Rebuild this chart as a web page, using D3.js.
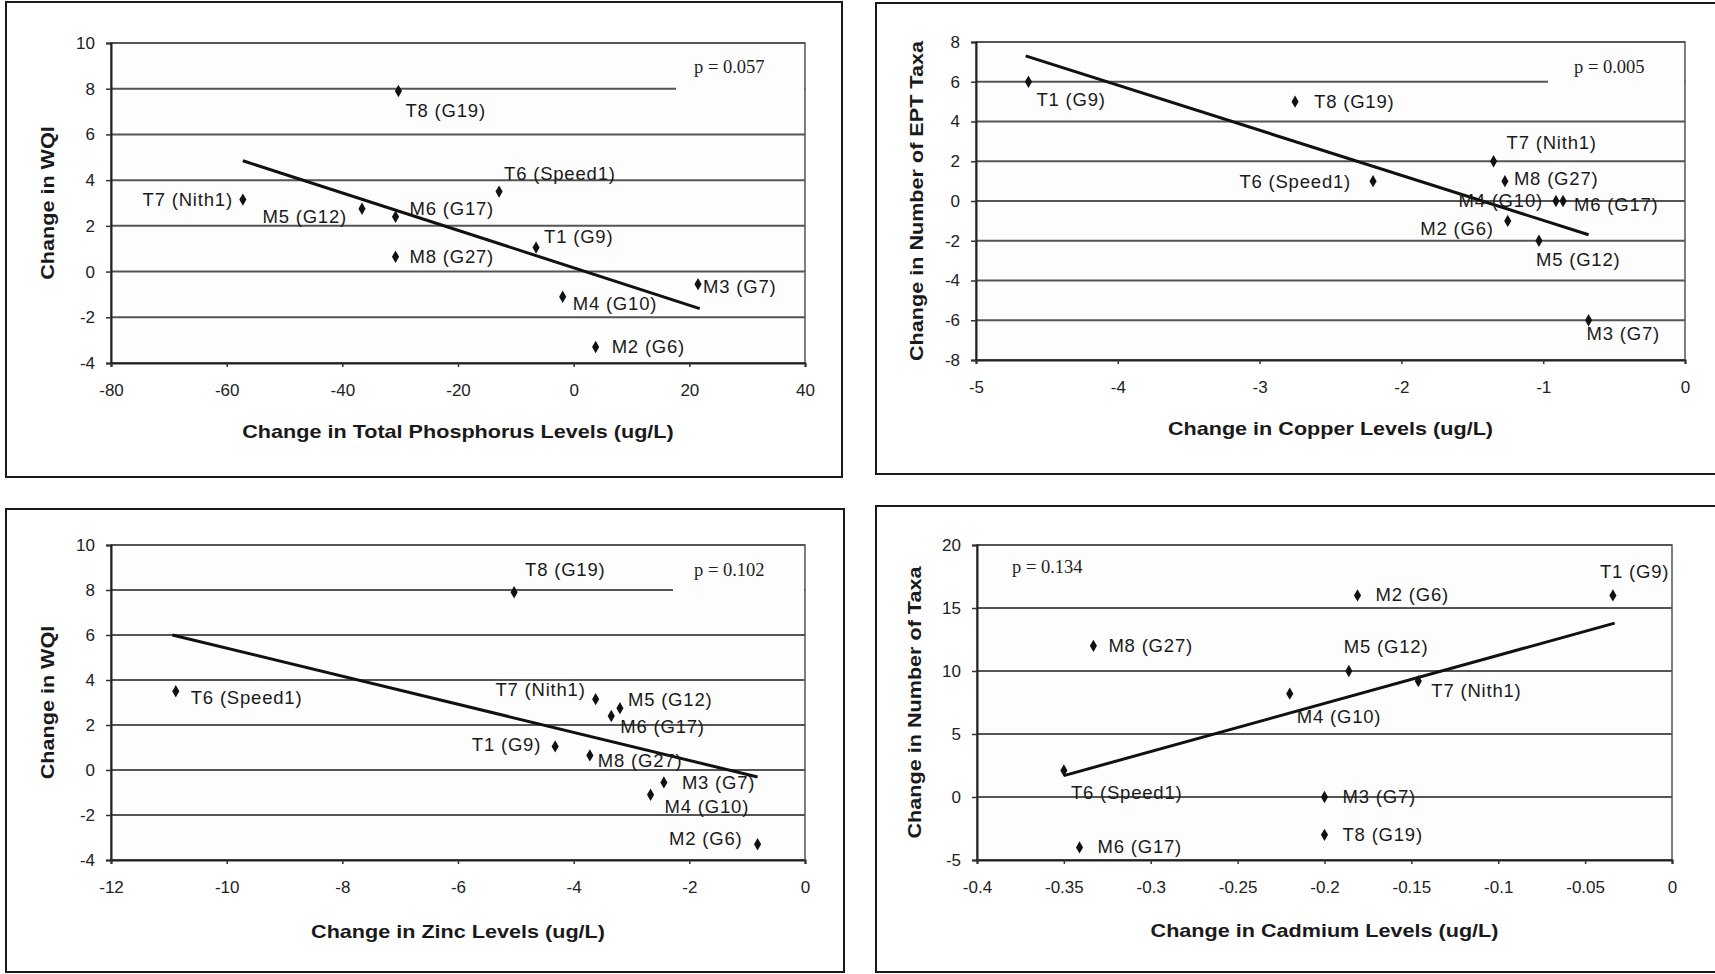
<!DOCTYPE html>
<html><head><meta charset="utf-8">
<script src="https://cdn.jsdelivr.net/npm/d3@7"></script>
<style>body{margin:0;background:#fff}</style>
</head><body>
<svg id="c" width="1715" height="974"></svg>
<script>
// ---------------- DATA ----------------
const sites = ["T8 (G19)","T7 (Nith1)","M5 (G12)","M6 (G17)","T6 (Speed1)","T1 (G9)","M8 (G27)","M4 (G10)","M3 (G7)","M2 (G6)"];
const wqiChange        = [7.9, 3.15, 2.75, 2.4, 3.5, 1.05, 0.65, -1.1, -0.55, -3.3];
const phosphorusChange = [-30.3, -57.2, -36.6, -30.8, -12.9, -6.5, -30.8, -1.9, 21.5, 3.8];
const zincChange       = [-5.03, -3.62, -3.2, -3.35, -10.88, -4.32, -3.72, -2.67, -2.44, -0.82];
const copperChange     = [-2.75, -1.35, -1.03, -0.86, -2.2, -4.63, -1.27, -0.91, -0.68, -1.25];
const eptChange        = [5, 2, -2, 0, 1, 6, 1, 0, -6, -1];
const cadmiumChange    = [-0.2, -0.146, -0.186, -0.341, -0.35, -0.034, -0.333, -0.22, -0.2, -0.181];
const taxaChange       = [-3, 9.2, 10, -4, 2.1, 16, 12, 8.2, 0, 16];

const trendTP = [[-57.2, 4.85], [21.8, -1.62]];
const trendCu = [[-4.65, 7.3], [-0.68, -1.7]];
const trendZn = [[-10.94, 6.0], [-0.82, -0.31]];
const trendCd = [[-0.35, 1.7], [-0.033, 13.8]];

const ticksTP   = [-80, -60, -40, -20, 0, 20, 40];
const ticksWQI  = [-4, -2, 0, 2, 4, 6, 8, 10];
const ticksCu   = [-5, -4, -3, -2, -1, 0];
const ticksEPT  = [-8, -6, -4, -2, 0, 2, 4, 6, 8];
const ticksZn   = [-12, -10, -8, -6, -4, -2, 0];
const ticksCd   = [-0.4, -0.35, -0.3, -0.25, -0.2, -0.15, -0.1, -0.05, 0];
const ticksTaxa = [-5, 0, 5, 10, 15, 20];

const pTP = "p = 0.057", pCu = "p = 0.005", pZn = "p = 0.102", pCd = "p = 0.134";

// ---------------- LAYOUT ----------------
const labelPosTP = {"T8 (G19)":["start",7,26],"T7 (Nith1)":["end",-10,6],"M5 (G12)":["end",-15,14],"M6 (G17)":["start",14,-2],
  "T6 (Speed1)":["start",5,-12],"T1 (G9)":["start",8,-5],"M8 (G27)":["start",14,6],"M4 (G10)":["start",10,13],"M3 (G7)":["start",5,9],"M2 (G6)":["start",16,6]};
const labelPosCu = {"T1 (G9)":["start",8,24],"T8 (G19)":["start",19,6],"T7 (Nith1)":["start",13,-12],"M8 (G27)":["start",9,4],
  "T6 (Speed1)":["end",-22,7],"M4 (G10)":["end",-13,6],"M6 (G17)":["start",11,10],"M2 (G6)":["end",-14,14],"M5 (G12)":["start",-3,25],"M3 (G7)":["start",-2,20]};
const labelPosZn = {"T8 (G19)":["start",11,-16],"T6 (Speed1)":["start",15,13],"T7 (Nith1)":["end",-10,-3],"M5 (G12)":["start",8,-2],
  "M6 (G17)":["start",9,17],"T1 (G9)":["end",-14,5],"M8 (G27)":["start",8,12],"M3 (G7)":["start",18,7],"M4 (G10)":["start",14,18],"M2 (G6)":["end",-15,1]};
const labelPosCd = {"T1 (G9)":["start",-13,-17],"M2 (G6)":["start",18,6],"M8 (G27)":["start",15,6],"M5 (G12)":["start",-5,-18],
  "T7 (Nith1)":["start",13,16],"M4 (G10)":["start",7,29],"T6 (Speed1)":["start",7,28],"M3 (G7)":["start",18,6],"T8 (G19)":["start",18,6],"M6 (G17)":["start",18,6]};

const panels = [
  {xv: phosphorusChange, yv: wqiChange, xTicks: ticksTP, yTicks: ticksWQI, trend: trendTP,
   xTitle: "Change in Total Phosphorus Levels (ug/L)", yTitle: "Change in WQI", pText: pTP, labels: labelPosTP,
   box: [6, 2, 842, 477], plot: [111, 805, 43, 363], xTitleY: 438, yTitleX: 48, pPos: [694, 67], pBox: [676, 50, 804, 112]},
  {xv: copperChange, yv: eptChange, xTicks: ticksCu, yTicks: ticksEPT, trend: trendCu,
   xTitle: "Change in Copper Levels (ug/L)", yTitle: "Change in Number of EPT Taxa", pText: pCu, labels: labelPosCu,
   box: [876, 3, 1720, 474], plot: [976, 1685, 42, 360], xTitleY: 435, yTitleX: 917, pPos: [1574, 67], pBox: [1548, 50, 1684, 110]},
  {xv: zincChange, yv: wqiChange, xTicks: ticksZn, yTicks: ticksWQI, trend: trendZn,
   xTitle: "Change in Zinc Levels (ug/L)", yTitle: "Change in WQI", pText: pZn, labels: labelPosZn,
   box: [6, 509, 844, 972], plot: [111, 805, 545, 860], xTitleY: 938, yTitleX: 48, pPos: [694, 570], pBox: [673, 553, 804, 612]},
  {xv: cadmiumChange, yv: taxaChange, xTicks: ticksCd, yTicks: ticksTaxa, trend: trendCd,
   xTitle: "Change in Cadmium Levels (ug/L)", yTitle: "Change in Number of Taxa", pText: pCd, labels: labelPosCd,
   box: [876, 506, 1720, 972], plot: [977, 1672, 545, 860], xTitleY: 937, yTitleX: 915, pPos: [1012, 567], pBox: null}
];

const SANS = "'Liberation Sans', Arial, Helvetica, sans-serif";
const SERIF = "'Liberation Serif', 'Times New Roman', serif";
const svg = d3.select("#c");

panels.forEach(o => {
  const g = svg.append("g");
  const [px0, px1, py0, py1] = o.plot;
  const x = d3.scaleLinear().domain(d3.extent(o.xTicks)).range([px0, px1]);
  const y = d3.scaleLinear().domain(d3.extent(o.yTicks)).range([py1, py0]);

  // chart border
  g.append("rect").attr("x", o.box[0]).attr("y", o.box[1])
    .attr("width", o.box[2] - o.box[0]).attr("height", o.box[3] - o.box[1])
    .attr("fill", "none").attr("stroke", "#1a1a1a").attr("stroke-width", 2);

  // plot background
  g.append("rect").attr("x", px0).attr("y", py0).attr("width", px1 - px0).attr("height", py1 - py0)
    .attr("fill", "#fdfdfd");

  // gridlines
  g.selectAll("line.grid").data(o.yTicks).join("line").attr("class", "grid")
    .attr("x1", px0).attr("x2", px1).attr("y1", d => y(d)).attr("y2", d => y(d))
    .attr("stroke", "#555").attr("stroke-width", 2);

  // white box behind p value
  if (o.pBox) {
    g.append("rect").attr("x", o.pBox[0]).attr("y", o.pBox[1])
      .attr("width", o.pBox[2] - o.pBox[0]).attr("height", o.pBox[3] - o.pBox[1]).attr("fill", "#fdfdfd");
  }

  // plot frame
  g.append("rect").attr("x", px0).attr("y", py0).attr("width", px1 - px0).attr("height", py1 - py0)
    .attr("fill", "none").attr("stroke", "#555").attr("stroke-width", 1.5);

  // axes
  const ya = g.append("g").attr("transform", `translate(${px0},0)`)
    .call(d3.axisLeft(y).tickValues(o.yTicks).tickSize(5).tickPadding(11).tickFormat(d => String(d)));
  const xa = g.append("g").attr("transform", `translate(0,${py1})`)
    .call(d3.axisBottom(x).tickValues(o.xTicks).tickSize(4).tickPadding(17).tickFormat(d => String(d)));
  [ya, xa].forEach(a => {
    a.select(".domain").attr("stroke", "#222").attr("stroke-width", 2);
    a.selectAll(".tick line").attr("stroke", "#333").attr("stroke-width", 1.5);
    a.selectAll(".tick text").attr("font-family", SANS).attr("font-size", 17).attr("fill", "#222");
  });

  // trend line
  g.append("line")
    .attr("x1", x(o.trend[0][0])).attr("y1", y(o.trend[0][1]))
    .attr("x2", x(o.trend[1][0])).attr("y2", y(o.trend[1][1]))
    .attr("stroke", "#111").attr("stroke-width", 3);

  // points
  const pts = sites.map((s, i) => ({s, xv: o.xv[i], yv: o.yv[i]}));
  g.selectAll("path.pt").data(pts).join("path").attr("class", "pt")
    .attr("d", d3.symbol(d3.symbolDiamond, 44))
    .attr("transform", d => `translate(${x(d.xv)},${y(d.yv)})`)
    .attr("fill", "#111");

  // labels
  g.selectAll("text.lbl").data(pts).join("text").attr("class", "lbl")
    .attr("x", d => x(d.xv) + o.labels[d.s][1])
    .attr("y", d => y(d.yv) + o.labels[d.s][2])
    .attr("text-anchor", d => o.labels[d.s][0])
    .attr("font-family", SANS).attr("font-size", 18.5).attr("letter-spacing", 0.8).attr("fill", "#1a1a1a")
    .text(d => d.s);

  // p value
  g.append("text").attr("x", o.pPos[0]).attr("y", o.pPos[1]).attr("dominant-baseline", "central")
    .attr("font-family", SERIF).attr("font-size", 18.5).attr("fill", "#222").text(o.pText);

  // axis titles (stretched horizontally like the scan)
  g.append("g").attr("transform", `translate(${(px0 + px1) / 2},${o.xTitleY}) scale(1.2,1)`)
    .append("text").attr("text-anchor", "middle")
    .attr("font-family", SANS).attr("font-weight", "bold").attr("font-size", 18).attr("fill", "#1a1a1a")
    .text(o.xTitle);
  g.append("g").attr("transform", `translate(${o.yTitleX},${(py0 + py1) / 2}) rotate(-90) scale(1.2,1)`)
    .append("text").attr("text-anchor", "middle").attr("dominant-baseline", "central")
    .attr("font-family", SANS).attr("font-weight", "bold").attr("font-size", 18).attr("fill", "#1a1a1a")
    .text(o.yTitle);
});
</script>
</body></html>
